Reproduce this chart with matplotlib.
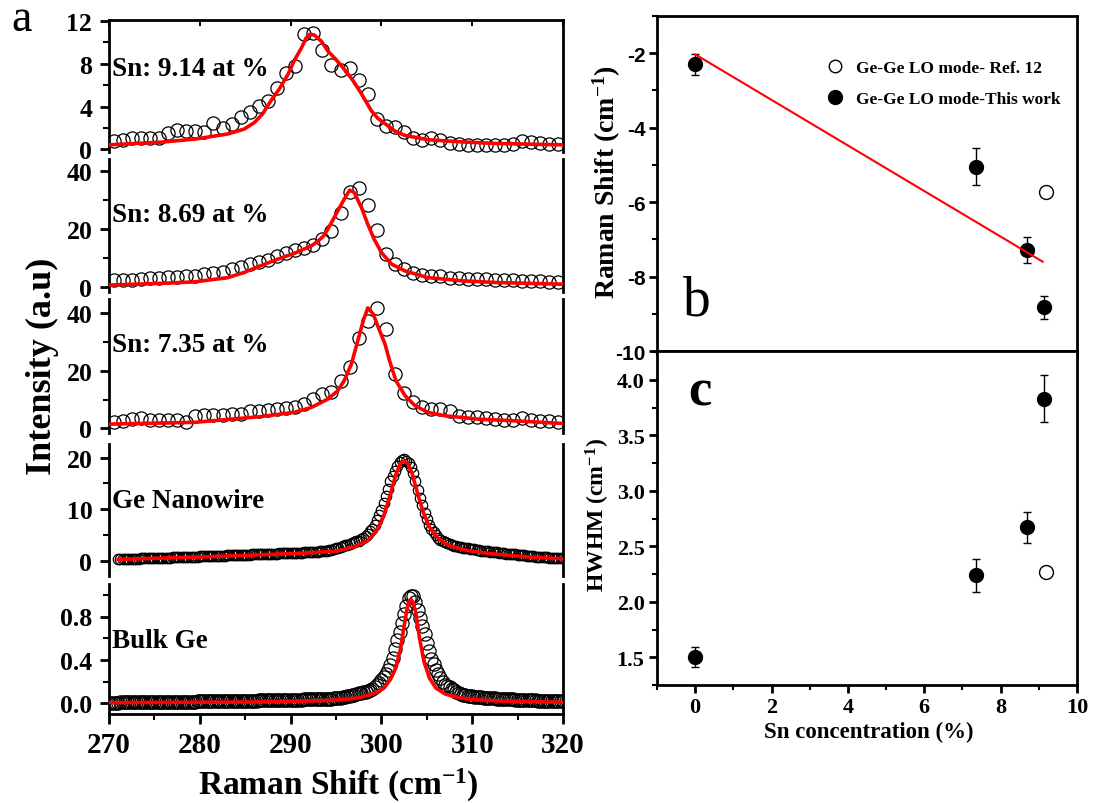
import numpy as np
import matplotlib
matplotlib.use("Agg")
import matplotlib.pyplot as plt
from matplotlib.ticker import MultipleLocator
from matplotlib.lines import Line2D

plt.rcParams['font.family'] = ['Liberation Serif', 'DejaVu Serif']
plt.rcParams['font.weight'] = 'bold'
plt.rcParams['mathtext.fontset'] = 'custom'
plt.rcParams['mathtext.rm'] = 'Liberation Serif:bold'
plt.rcParams['mathtext.it'] = 'Liberation Serif:bold'
plt.rcParams['axes.unicode_minus'] = False

# ---- panel a: Raman spectra (circles = data, red = fit) ----
x_sn914 = np.arange(270.5, 320.0, 1.0)
y_sn914 = [0.8, 0.85, 1.05, 1.1, 1.05, 1.1, 1.5, 1.85, 1.7, 1.75,
           1.6, 2.45, 1.95, 2.4, 3.0, 3.5, 4.1, 4.5, 5.7, 7.1,
           7.8, 10.8, 10.9, 9.3, 7.9, 7.4, 7.6, 6.5, 5.2, 2.8,
           2.2, 2.1, 1.6, 1.05, 0.85, 1.1, 0.85, 0.6, 0.5, 0.45,
           0.45, 0.45, 0.4, 0.45, 0.5, 0.75, 0.7, 0.55, 0.5, 0.5]
fx_sn914 = [270.0, 275.7, 279.4, 283.1, 284.9, 286.0, 286.9, 287.8, 288.8, 289.7,
            290.4, 291.2, 291.7, 292.1, 292.6, 293.4, 294.1, 295.0, 295.9, 296.9,
            297.8, 298.9, 299.6, 300.4, 301.5, 302.6, 305.1, 308.8, 312.5, 320.0]
fy_sn914 = [0.42, 0.67, 0.95, 1.44, 1.9, 2.5, 3.3, 4.5, 5.7, 7.0,
            8.3, 9.5, 10.4, 10.76, 10.7, 10.1, 9.2, 8.4, 7.5, 6.4,
            5.2, 3.6, 2.9, 2.4, 1.7, 1.3, 0.9, 0.7, 0.55, 0.42]

x_sn869 = np.arange(270.5, 320.0, 1.0)
y_sn869 = [2.2, 2.3, 2.4, 2.6, 2.9, 3.1, 3.3, 3.4, 3.6, 3.8,
           4.5, 4.8, 5.3, 6.0, 6.9, 7.8, 8.6, 9.4, 10.8, 11.6,
           12.6, 13.5, 14.6, 16.4, 19.4, 25.5, 33.0, 34.2, 28.5, 19.8,
           11.5, 7.8, 6.0, 4.9, 4.2, 3.9, 3.6, 3.2, 2.9, 2.7,
           2.7, 2.6, 2.5, 2.3, 2.2, 2.1, 2.0, 1.9, 1.8, 1.7]
fx_sn869 = [270.0, 275.7, 279.4, 283.1, 284.9, 286.7, 288.6, 290.4, 292.3, 293.0,
            293.6, 294.1, 294.8, 295.8, 296.5, 297.0, 297.8, 298.5, 299.2, 300.0,
            301.1, 302.6, 305.1, 308.8, 312.5, 320.0]
fy_sn869 = [0.6, 1.2, 1.7, 3.2, 5.0, 7.3, 9.6, 11.6, 14.2, 15.8,
            17.5, 20.0, 24.0, 29.8, 33.5, 32.7, 27.5, 21.7, 16.5, 11.9,
            7.9, 5.5, 3.2, 2.1, 1.5, 0.9]

x_sn735 = np.arange(270.5, 320.0, 1.0)
y_sn735 = [2.2, 2.4, 3.2, 3.6, 2.9, 2.9, 2.8, 2.9, 2.3, 4.2,
           4.5, 4.7, 4.8, 4.9, 5.0, 5.9, 6.2, 6.4, 6.7, 7.2,
           7.6, 8.5, 10.2, 11.9, 12.8, 16.5, 21.5, 31.5, 37.5, 41.8,
           34.5, 19.0, 12.2, 9.3, 7.5, 6.7, 6.7, 6.0, 4.4, 4.1,
           3.8, 3.5, 3.2, 3.0, 2.9, 3.7, 2.9, 2.6, 2.4, 2.2]
fx_sn735 = [270.0, 279.4, 286.7, 290.4, 292.3, 294.1, 295.2, 295.9, 296.7, 297.4,
            298.0, 298.5, 299.1, 299.8, 300.4, 300.9, 301.6, 302.6, 303.7, 305.1,
            307.0, 310.7, 314.3, 320.0]
fy_sn735 = [1.5, 2.1, 4.1, 5.6, 7.3, 10.2, 13.1, 16.6, 22.4, 30.5,
            37.4, 41.9, 39.8, 34.0, 29.3, 23.5, 16.6, 11.4, 7.9, 5.6,
            4.4, 3.2, 2.7, 1.7]

x_nw = np.arange(271.0, 320.01, 0.25)
y_nw = [0.45, 0.46, 0.47, 0.48, 0.5, 0.5, 0.5, 0.52, 0.55, 0.56,
        0.58, 0.59, 0.6, 0.6, 0.6, 0.62, 0.65, 0.67, 0.7, 0.7,
        0.7, 0.71, 0.72, 0.74, 0.76, 0.78, 0.8, 0.81, 0.82, 0.84,
        0.86, 0.88, 0.9, 0.91, 0.92, 0.94, 0.96, 0.98, 1.0, 1.0,
        1.0, 1.02, 1.05, 1.07, 1.1, 1.1, 1.1, 1.12, 1.15, 1.17,
        1.2, 1.21, 1.22, 1.24, 1.25, 1.27, 1.3, 1.31, 1.33, 1.35,
        1.36, 1.38, 1.4, 1.41, 1.42, 1.44, 1.45, 1.47, 1.5, 1.51,
        1.52, 1.54, 1.55, 1.57, 1.6, 1.61, 1.62, 1.64, 1.66, 1.68,
        1.7, 1.72, 1.74, 1.77, 1.8, 1.82, 1.84, 1.87, 1.9, 1.92,
        1.95, 2.0, 2.05, 2.12, 2.2, 2.35, 2.5, 2.65, 2.8, 2.95,
        3.1, 3.25, 3.4, 3.55, 3.7, 3.85, 4.0, 4.25, 4.5, 4.9,
        5.3, 5.8, 6.3, 7.1, 7.9, 8.9, 9.9, 11.2, 12.5, 14.0,
        15.4, 16.4, 17.4, 18.3, 19.2, 19.5, 19.8, 19.4, 19.0, 18.1,
        17.1, 15.5, 13.8, 12.3, 10.8, 9.4, 8.1, 7.1, 6.2, 5.6,
        5.0, 4.6, 4.2, 3.95, 3.7, 3.55, 3.4, 3.2, 3.05, 2.95,
        2.85, 2.75, 2.65, 2.58, 2.5, 2.42, 2.35, 2.3, 2.25, 2.18,
        2.1, 2.05, 2.0, 1.95, 1.9, 1.85, 1.8, 1.75, 1.7, 1.65,
        1.6, 1.52, 1.45, 1.42, 1.4, 1.35, 1.3, 1.25, 1.2, 1.15,
        1.1, 1.05, 1.0, 0.97, 0.95, 0.92, 0.9, 0.85, 0.8, 0.77,
        0.75, 0.72, 0.7, 0.67, 0.65, 0.62, 0.6]
fx_nw = [271.0, 280.0, 287.0, 292.0, 295.0, 297.0, 298.5, 299.5, 300.3, 301.0,
         301.6, 302.1, 302.5, 302.9, 303.4, 304.0, 304.6, 305.3, 306.2, 307.5,
         309.5, 312.0, 316.0, 320.0]
fy_nw = [0.4, 0.85, 1.3, 1.65, 2.0, 2.8, 4.0, 6.0, 9.0, 13.0,
         16.8, 18.9, 19.3, 18.9, 16.8, 13.0, 9.5, 6.6, 4.5, 3.0,
         2.1, 1.5, 0.9, 0.5]

x_bulk = np.arange(270.0, 320.01, 0.25)
y_bulk = [0.005, 0.005, 0.006, 0.006, 0.006, 0.007, 0.007, 0.007, 0.008, 0.008,
          0.008, 0.008, 0.009, 0.009, 0.009, 0.009, 0.010, 0.010, 0.010, 0.010,
          0.011, 0.011, 0.011, 0.011, 0.012, 0.012, 0.012, 0.013, 0.013, 0.013,
          0.013, 0.014, 0.014, 0.014, 0.014, 0.015, 0.015, 0.015, 0.015, 0.016,
          0.016, 0.016, 0.016, 0.017, 0.017, 0.017, 0.018, 0.018, 0.018, 0.019,
          0.019, 0.019, 0.020, 0.020, 0.020, 0.021, 0.021, 0.021, 0.022, 0.022,
          0.022, 0.023, 0.023, 0.023, 0.024, 0.024, 0.025, 0.025, 0.025, 0.026,
          0.026, 0.027, 0.027, 0.027, 0.028, 0.028, 0.029, 0.029, 0.030, 0.030,
          0.031, 0.031, 0.032, 0.032, 0.033, 0.033, 0.034, 0.034, 0.035, 0.035,
          0.036, 0.036, 0.037, 0.037, 0.038, 0.039, 0.040, 0.041, 0.042, 0.044,
          0.046, 0.049, 0.052, 0.056, 0.060, 0.064, 0.068, 0.073, 0.078, 0.084,
          0.090, 0.095, 0.10, 0.107, 0.115, 0.124, 0.135, 0.148, 0.165, 0.185,
          0.21, 0.24, 0.27, 0.31, 0.35, 0.42, 0.50, 0.58, 0.66, 0.74,
          0.82, 0.90, 0.97, 0.99, 0.99, 0.93, 0.86, 0.79, 0.71, 0.64,
          0.56, 0.48, 0.41, 0.36, 0.31, 0.27, 0.23, 0.20, 0.17, 0.16,
          0.15, 0.135, 0.12, 0.107, 0.095, 0.088, 0.08, 0.075, 0.07, 0.066,
          0.062, 0.06, 0.058, 0.056, 0.054, 0.052, 0.05, 0.048, 0.047, 0.045,
          0.044, 0.043, 0.041, 0.040, 0.039, 0.038, 0.036, 0.035, 0.034, 0.033,
          0.032, 0.031, 0.030, 0.029, 0.028, 0.027, 0.026, 0.025, 0.025, 0.024,
          0.024, 0.023, 0.022, 0.022, 0.021, 0.021, 0.020, 0.020, 0.019, 0.019,
          0.018]
fx_bulk = [270.0, 285.0, 290.0, 294.0, 296.0, 297.5, 298.5, 299.5, 300.3, 301.0,
           301.6, 302.1, 302.5, 302.8, 303.0, 303.25, 303.5, 303.8, 304.2, 304.7,
           305.3, 306.0, 307.0, 308.5, 310.5, 314.0, 320.0]
fy_bulk = [0.005, 0.01, 0.015, 0.025, 0.035, 0.05, 0.07, 0.10, 0.14, 0.22,
           0.33, 0.5, 0.71, 0.86, 0.93, 0.96, 0.93, 0.83, 0.6, 0.38,
           0.23, 0.14, 0.085, 0.05, 0.03, 0.017, 0.008]

sample_labels = ["Sn: 9.14 at %", "Sn: 8.69 at %", "Sn: 7.35 at %",
                 "Ge Nanowire", "Bulk Ge"]

# ---- panels b, c ----
sn_conc = [0.0, 7.35, 8.69, 9.14]
shift = [-2.3, -5.05, -7.28, -8.82]
shift_err = [0.29, 0.5, 0.35, 0.31]
hwhm = [1.5, 2.24, 2.67, 3.83]
hwhm_err = [0.09, 0.15, 0.14, 0.21]
ref_conc = [9.2]
ref_shift = [-5.72]
ref_hwhm = [2.27]
fit_conc = [0.0, 9.1]
fit_shift = [-2.03, -7.6]
legend_labels = ["Ge-Ge LO mode- Ref. 12", "Ge-Ge LO mode-This work"]

W, H = 1110, 804
fig = plt.figure(figsize=(W / 100, H / 100), dpi=100)


def box(l, t, r, b):
    return [l / W, 1 - b / H, (r - l) / W, (b - t) / H]


def ftext(x, y, s, **kw):
    return fig.text(x / W, 1 - y / H, s, **kw)


spectra = [
    (x_sn914, y_sn914, fx_sn914, fy_sn914, (21, 153), (-0.25, 12.1), 4, 2, 9.5),
    (x_sn869, y_sn869, fx_sn869, fy_sn869, (160, 293), (-1.8, 44.3), 20, 10, 9.5),
    (x_sn735, y_sn735, fx_sn735, fy_sn735, (300, 434), (-1.6, 45.0), 20, 10, 9.5),
    (x_nw, y_nw, fx_nw, fy_nw, (445, 577), (-2.8, 22.6), 10, 5, 7.5),
    (x_bulk, y_bulk, fx_bulk, fy_bulk, (585, 715), (-0.10, 1.10), 0.4, 0.2, 9.5),
]
label_base = [76, 222, 352, 508, 648]

for i, (x, y, fx, fy, (top, bot), ylim, major, minor, ms) in enumerate(spectra):
    ax = fig.add_axes(box(109, top, 563, bot))
    ax.plot(x, y, 'o', ms=ms, mfc='none', mec='black', mew=0.9)
    ax.plot(fx, fy, color='red', lw=2.6, zorder=3)
    ax.set_xlim(270, 320)
    ax.set_ylim(*ylim)
    ax.yaxis.set_major_locator(MultipleLocator(major))
    ax.yaxis.set_minor_locator(MultipleLocator(minor))
    ax.xaxis.set_major_locator(MultipleLocator(10))
    ax.xaxis.set_minor_locator(MultipleLocator(5))
    if major < 1:
        ax.yaxis.set_major_formatter(plt.FormatStrFormatter('%.1f'))
    for side in ['left', 'right', 'top', 'bottom']:
        ax.spines[side].set_linewidth(2.0)
    ax.spines['top'].set_visible(i == 0)
    ax.spines['bottom'].set_visible(i == 4)
    ax.tick_params(axis='y', which='major', direction='out', length=6.5, width=2,
                   labelsize=18.5, pad=5.5)
    ax.tick_params(axis='y', which='minor', direction='out', length=4, width=1.5)
    if i == 4:
        ax.tick_params(axis='x', which='major', direction='out', length=7.5, width=2,
                       labelsize=21, pad=5)
        ax.tick_params(axis='x', which='minor', direction='out', length=4, width=1.5)
    elif i == 0:
        ax.tick_params(axis='x', which='both', bottom=False, labelbottom=False,
                       top=True, direction='in', length=4, width=1.5)
        ax.tick_params(axis='x', which='minor', top=False)
    else:
        ax.tick_params(axis='x', which='both', bottom=False, labelbottom=False)
    for lab in ax.get_yticklabels() + ax.get_xticklabels():
        lab.set_fontweight('bold')
    ftext(112, label_base[i], sample_labels[i], fontsize=19.5, weight='bold',
          va='baseline', ha='left')

ftext(338, 795, r'Raman Shift (cm$^{-1}$)', fontsize=24, weight='bold',
      ha='center', va='baseline')
ftext(42, 366, 'Intensity (a.u)', fontsize=26, weight='bold', rotation=90,
      ha='center', va='center')
ftext(11, 31, 'a', fontsize=33, weight='normal', va='baseline', ha='left')

# ---- panel b ----
ax_b = fig.add_axes(box(657, 17, 1077, 352))
ax_b.plot(fit_conc, fit_shift, color='red', lw=1.5, zorder=4)
ax_b.errorbar(sn_conc, shift, yerr=shift_err, fmt='o', color='black', ms=10,
              capsize=3, elinewidth=1, capthick=1, zorder=3)
ax_b.plot(ref_conc, ref_shift, 'o', mfc='white', mec='black', ms=10, mew=1)
ax_b.set_xlim(-1, 10)
ax_b.set_ylim(-10, -1.0)
ax_b.xaxis.set_major_locator(MultipleLocator(2))
ax_b.xaxis.set_minor_locator(MultipleLocator(1))
ax_b.yaxis.set_major_locator(MultipleLocator(2))
ax_b.yaxis.set_minor_locator(MultipleLocator(1))
ax_b.tick_params(axis='x', which='both', labelbottom=False, direction='out')
ax_b.tick_params(which='major', length=6, width=2)
ax_b.tick_params(which='minor', length=3.5, width=1.5)
ax_b.tick_params(axis='y', which='major', labelsize=15, pad=2)
for lab in ax_b.get_yticklabels():
    lab.set_family('Liberation Sans')
    lab.set_fontweight('bold')
for side in ax_b.spines.values():
    side.set_linewidth(2.0)

h_open = Line2D([], [], ls='none', marker='o', mfc='white', mec='black', ms=9, mew=1)
h_fill = Line2D([], [], ls='none', marker='o', color='black', ms=10)
ax_b.legend([h_open, h_fill], legend_labels, loc='upper left',
            bbox_to_anchor=(0.366, 0.915), frameon=False, handlelength=1.0,
            handletextpad=0.7, labelspacing=0.85,
            prop=dict(family='Liberation Serif', weight='bold', size=12.5))
ftext(683, 315, 'b', fontsize=40, weight='normal', va='baseline', ha='left')
ftext(607, 182, r'Raman Shift (cm$^{-1}$)', fontsize=20, weight='bold',
      rotation=90, ha='center', va='center')

# ---- panel c ----
ax_c = fig.add_axes(box(657, 352, 1077, 686))
ax_c.errorbar(sn_conc, hwhm, yerr=hwhm_err, fmt='o', color='black', ms=10,
              capsize=3, elinewidth=1, capthick=1, zorder=3)
ax_c.plot(ref_conc, ref_hwhm, 'o', mfc='white', mec='black', ms=10, mew=1)
ax_c.set_xlim(-1, 10)
ax_c.set_ylim(1.25, 4.26)
ax_c.xaxis.set_major_locator(MultipleLocator(2))
ax_c.xaxis.set_minor_locator(MultipleLocator(1))
ax_c.yaxis.set_major_locator(MultipleLocator(0.5))
ax_c.yaxis.set_minor_locator(MultipleLocator(0.25))
ax_c.yaxis.set_major_formatter(plt.FormatStrFormatter('%.1f'))
ax_c.tick_params(which='major', direction='out', length=6, width=2, labelsize=16, pad=3)
ax_c.tick_params(which='minor', direction='out', length=3.5, width=1.5)
for lab in ax_c.get_yticklabels() + ax_c.get_xticklabels():
    lab.set_fontweight('bold')
for side in ax_c.spines.values():
    side.set_linewidth(2.0)
ftext(688, 406, 'c', fontsize=38, weight='bold', va='baseline', ha='left')
ftext(598, 515, r'HWHM (cm$^{-1}$)', fontsize=17, weight='bold',
      rotation=90, ha='center', va='center')
ftext(869, 738, 'Sn concentration (%)', fontsize=16.5, weight='bold',
      ha='center', va='baseline')

fig.savefig('out.png', dpi=100)
